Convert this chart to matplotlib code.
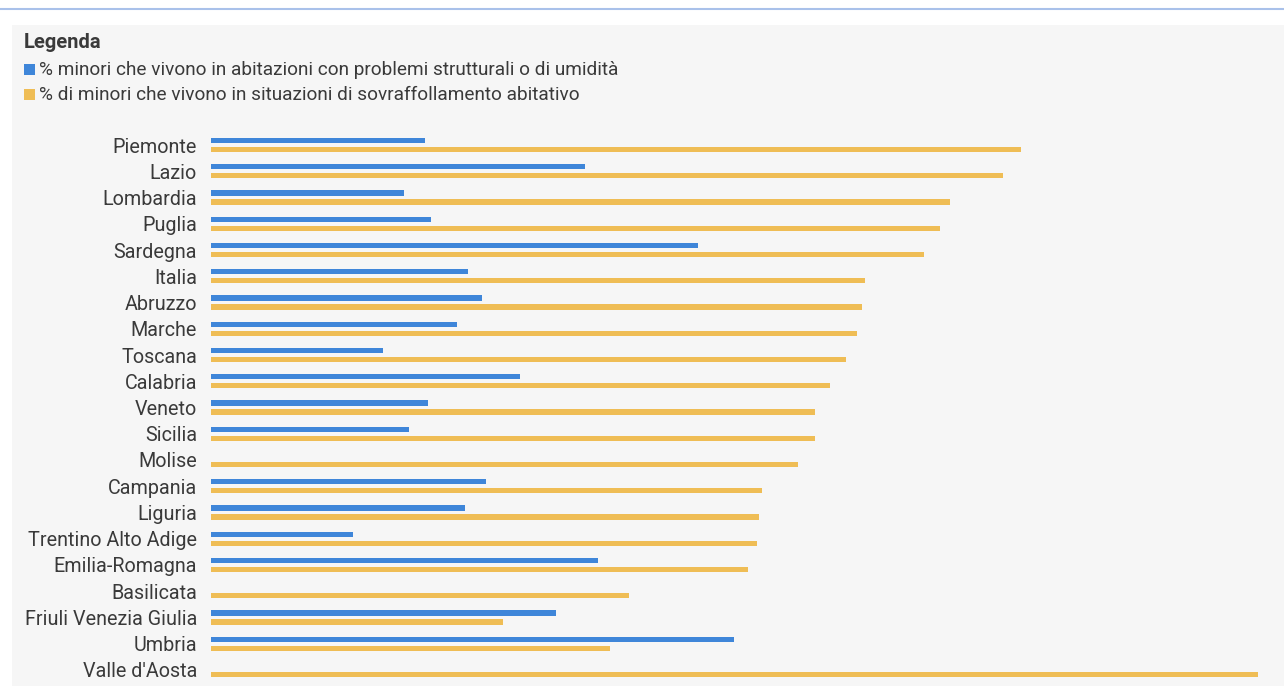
import matplotlib.pyplot as plt
import numpy as np
from matplotlib.patches import Rectangle
from matplotlib.lines import Line2D

regions = [
    "Piemonte", "Lazio", "Lombardia", "Puglia", "Sardegna", "Italia", "Abruzzo",
    "Marche", "Toscana", "Calabria", "Veneto", "Sicilia", "Molise", "Campania",
    "Liguria", "Trentino Alto Adige", "Emilia-Romagna", "Basilicata",
    "Friuli Venezia Giulia", "Umbria", "Valle d'Aosta",
]
# % minori in abitazioni con problemi strutturali o di umidità (None = dato mancante)
humidity = [13.7, 24.0, 12.4, 14.1, 31.2, 16.5, 17.4, 15.8, 11.0, 19.8, 13.9,
            12.7, None, 17.6, 16.3, 9.1, 24.8, None, 22.1, 33.5, None]
# % minori in situazioni di sovraffollamento abitativo
overcrowding = [51.9, 50.8, 47.4, 46.7, 45.7, 41.9, 41.7, 41.4, 40.7, 39.7,
                38.7, 38.7, 37.6, 35.3, 35.1, 35.0, 34.4, 26.8, 18.7, 25.6, 67.1]

legend_labels = [
    "% minori che vivono in abitazioni con problemi strutturali o di umidità",
    "% di minori che vivono in situazioni di sovraffollamento abitativo",
]

BLUE = "#3f86d9"
ORANGE = "#efbd55"
TEXT = "#3a3a3a"
W, H = 1284, 686

plt.rcParams["font.family"] = ["Roboto", "DejaVu Sans"]

fig = plt.figure(figsize=(W / 100, H / 100), dpi=100)
fig.patch.set_facecolor("white")

# gray panel and blue rule on top
fig.patches.append(Rectangle((12 / W, 0), 1, 1 - 25 / H, transform=fig.transFigure,
                             facecolor="#f6f6f6", edgecolor="none", zorder=-10))
fig.lines.append(Line2D([0, 1], [1 - 9 / H, 1 - 9 / H], transform=fig.transFigure,
                        color="#a9c1ea", linewidth=1.5))

# legend
fig.text(24 / W, 1 - 42 / H, "Legenda", fontsize=14.5, fontweight="bold",
         color=TEXT, va="center", ha="left")
for k, (lab, col) in enumerate(zip(legend_labels, [BLUE, ORANGE])):
    yc = 70 + 25 * k
    fig.patches.append(Rectangle((24 / W, 1 - (yc + 5) / H), 11 / W, 11 / H,
                                 transform=fig.transFigure, facecolor=col,
                                 edgecolor="none"))
    fig.text(39 / W, 1 - yc / H, lab, fontsize=13.7, color=TEXT,
             va="center", ha="left")

# bar chart
top_px, bot_px = 131.9, 683.1
ax = fig.add_axes([211 / W, 1 - bot_px / H, (1270 - 211) / W, (bot_px - top_px) / H])
ax.set_facecolor("none")
ax.set_zorder(1)
n = len(regions)
y = np.arange(n)
off = 0.175
hb = 0.2
hv = [v if v is not None else 0 for v in humidity]
ax.barh(y - off, hv, height=hb, color=BLUE, linewidth=0)
ax.barh(y + off, overcrowding, height=hb, color=ORANGE, linewidth=0)

ax.set_xlim(0, (1270 - 211) / 15.6)
ax.set_ylim(n - 0.5, -0.5)
ax.set_yticks(y)
ax.set_yticklabels(regions, fontsize=14.2, color=TEXT)
ax.tick_params(axis="y", length=0, pad=10)
ax.set_xticks([])
for s in ax.spines.values():
    s.set_visible(False)

fig.savefig("out.png", dpi=100, facecolor=fig.get_facecolor())
